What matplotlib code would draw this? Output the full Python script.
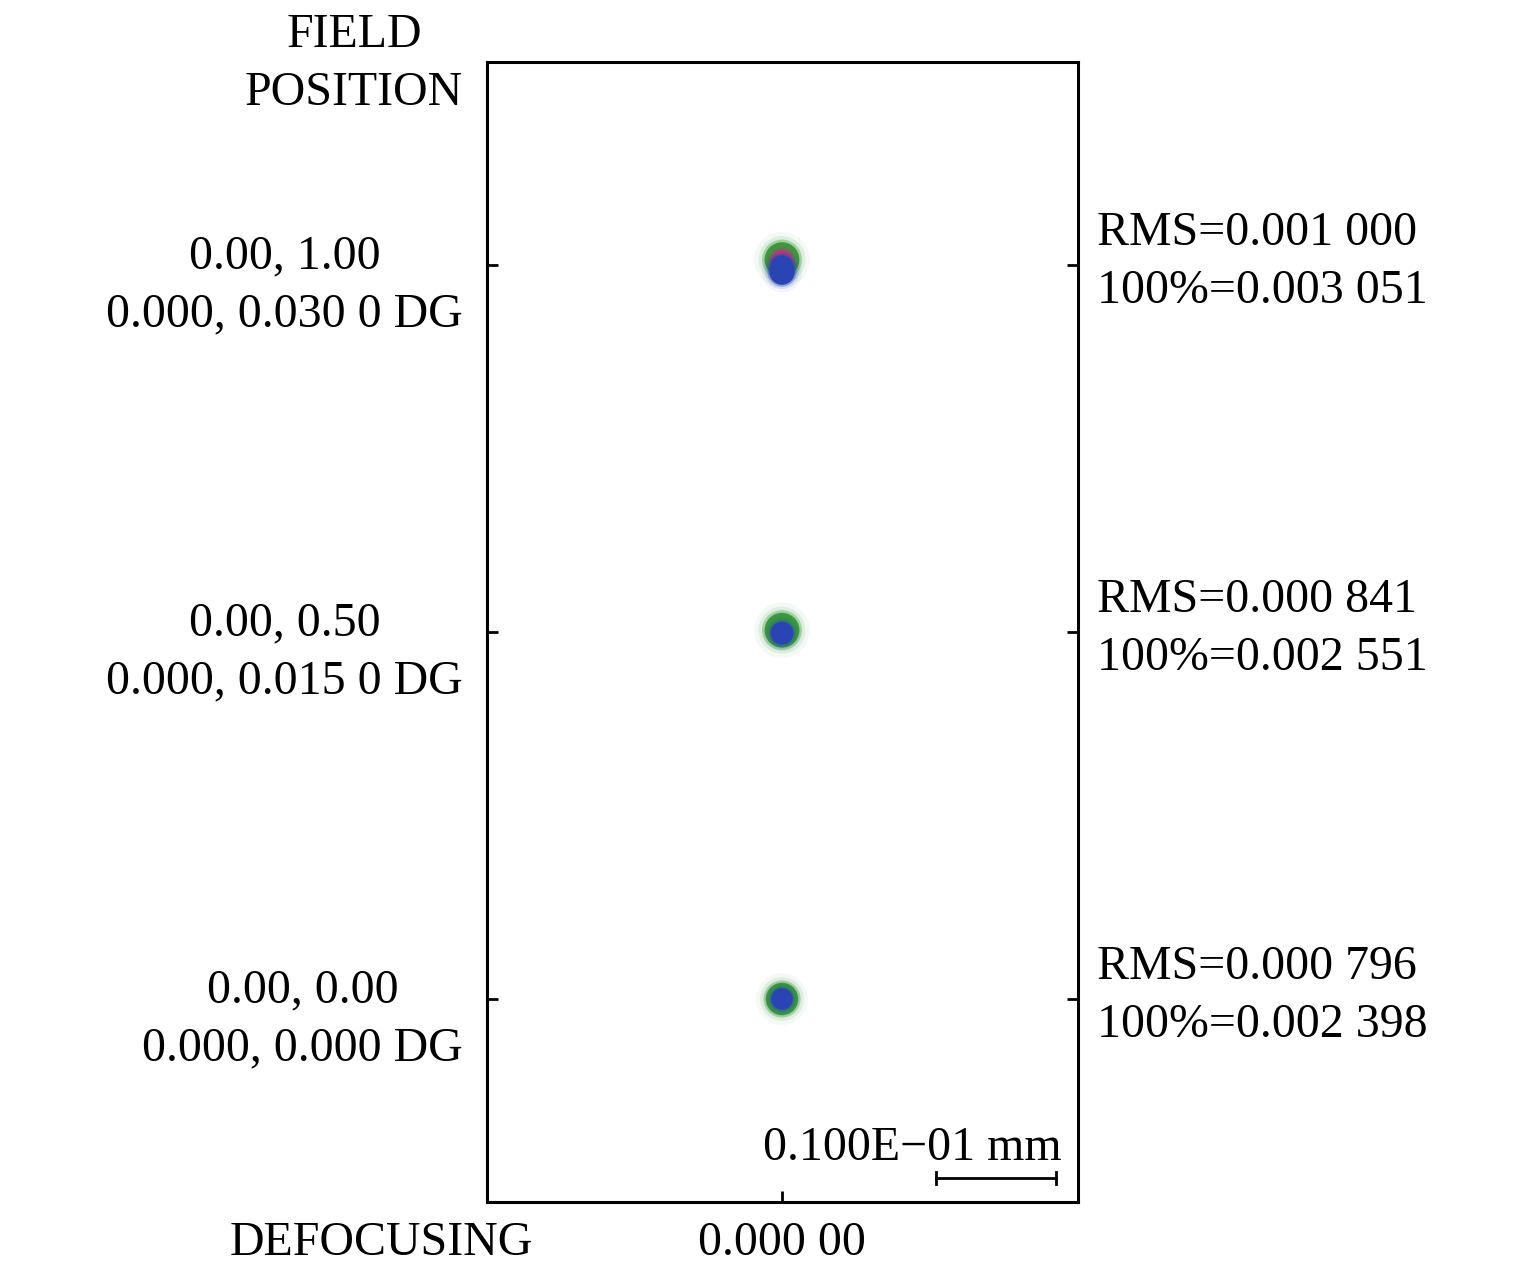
import numpy as np
import matplotlib
matplotlib.use("Agg")
import matplotlib.pyplot as plt
import matplotlib.transforms as mtransforms
from matplotlib.patches import Ellipse

plt.rcParams['font.family'] = ['Liberation Serif', 'DejaVu Serif']

# field data
fields = [1.0, 0.5, 0.0]
field_labels = ["0.00, 1.00\n0.000, 0.030 0 DG",
                "0.00, 0.50\n0.000, 0.015 0 DG",
                "0.00, 0.00\n0.000, 0.000 DG"]
rms = ["0.001 000", "0.000 841", "0.000 796"]
geo = ["0.003 051", "0.002 551", "0.002 398"]

# spot blobs per field: (color, dx um, dy um, radius um), drawn in order
wl_colors = {"g": "#3a9a3c", "r": "#c23a78", "b": "#2b44b4"}
spots = {
    1.0: [("g", 0.0, 0.45, 1.45), ("r", 0.0, 0.35, 0.9), ("b", 0.0, -0.6, 1.05),
          ("b", 0.0, -0.15, 0.95)],
    0.5: [("g", 0.0, 0.15, 1.45), ("b", 0.0, -0.1, 0.95)],
    0.0: [("g", 0.0, 0.0, 1.35), ("b", 0.0, 0.0, 0.9)],
}

px_per_mm = 12000.0      # horizontal scale
px_per_unit = 734.0      # vertical field scale
ysc = px_per_mm / px_per_unit / 1000.0   # um -> y units
xsc = 1.0 / 1000.0                       # um -> mm

fig = plt.figure(figsize=(15.35, 12.77), dpi=100)
ax = fig.add_axes([487/1535, 1-1202/1277, 591/1535, 1140/1277])
ax.set_xlim(-295/px_per_mm, 296/px_per_mm)
ax.set_ylim(-203/px_per_unit, 937/px_per_unit)

for f in fields:
    for c, dx, dy, r in spots[f]:
        col = wl_colors[c]
        # soft edge
        for k, a in [(1.6, 0.05), (1.35, 0.12), (1.15, 0.35)]:
            ax.add_patch(Ellipse((dx*xsc, f + dy*ysc), 2*r*k*xsc, 2*r*k*ysc,
                                 color=col, alpha=a, lw=0))
        ax.add_patch(Ellipse((dx*xsc, f + dy*ysc), 2*r*xsc, 2*r*ysc,
                             color=col, lw=0))

for s in ax.spines.values():
    s.set_linewidth(2.2)
ax.set_yticks(fields)
ax.set_xticks([0])
ax.tick_params(direction='in', length=8, width=2.0, left=True, right=True,
               labelleft=False, labelbottom=False)

ytr = ax.get_yaxis_transform()
lsp = 1.4
for f, lab, r1, r2 in zip(fields, field_labels, rms, geo):
    ax.text(-0.0406, f - 61/px_per_unit, lab, transform=ytr, ha='right', va='baseline',
            multialignment='center', fontsize=34.5, linespacing=lsp)
    ax.text(1.032, f + 3/px_per_unit, "RMS=" + r1 + "\n100%=" + r2, transform=ytr,
            ha='left', va='center', multialignment='left', fontsize=34.5,
            linespacing=lsp)

fig.text(463/1535, 1-105/1277, "FIELD\nPOSITION", ha='right', va='baseline',
         multialignment='center', fontsize=34.5, linespacing=lsp)
fig.text(230/1535, 1-1255/1277, "DEFOCUSING", ha='left', va='baseline', fontsize=34.5)
btr = mtransforms.blended_transform_factory(ax.transData, fig.transFigure)
ax.text(0, 1-1255/1277, "0.000 00", transform=btr, ha='center',
        va='baseline', fontsize=34.5)

# scale bar 0.01 mm
bar_len = 0.01
bx1 = 274/px_per_mm
by = (999-1178)/px_per_unit
ax.plot([bx1 - bar_len, bx1], [by, by], color='black', lw=2.0)
ax.plot([bx1 - bar_len, bx1 - bar_len], [by - 6/px_per_unit, by + 6/px_per_unit], color='black', lw=2.0)
ax.plot([bx1, bx1], [by - 6/px_per_unit, by + 6/px_per_unit], color='black', lw=2.0)
ax.text(280/px_per_mm, (999-1160)/px_per_unit, "0.100E\u221201 mm", ha='right',
        va='baseline', fontsize=34.5)

fig.savefig("out.png", dpi=100)
